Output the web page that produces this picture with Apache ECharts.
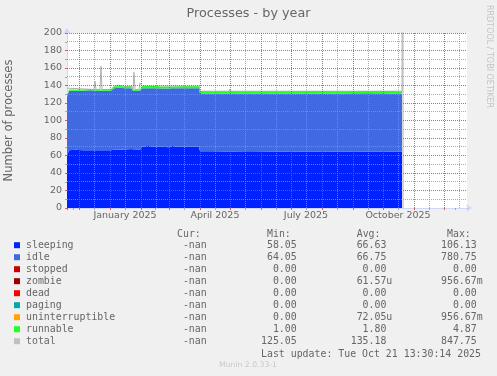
<!DOCTYPE html>
<html>
<head>
<meta charset="utf-8">
<title>Processes - by year</title>
<script src="https://cdn.jsdelivr.net/npm/echarts@6/dist/echarts.min.js"></script>
<style>
  html, body { margin: 0; padding: 0; background: #f0f0f0; }
  #wrap { position: relative; width: 497px; height: 376px; }
  #chart, #gridOverlay { position: absolute; left: 0; top: 0; width: 497px; height: 376px; }
  #gridOverlay { pointer-events: none; }
</style>
</head>
<body>
<div id="wrap">
  <div id="chart"></div>
  <div id="gridOverlay"></div>
</div>
<script>
// sample days
const dates = ['2024-11-19', '2024-11-21', '2024-11-28', '2024-12-05', '2024-12-12', '2024-12-19', '2024-12-26',
  '2025-01-02', '2025-01-05', '2025-01-10', '2025-01-16', '2025-01-22', '2025-01-24', '2025-01-31',
  '2025-02-02', '2025-02-08', '2025-02-15', '2025-02-22', '2025-03-01', '2025-03-04', '2025-03-10',
  '2025-03-20', '2025-03-31', '2025-04-01', '2025-04-15', '2025-05-01', '2025-05-20', '2025-06-10',
  '2025-07-01', '2025-07-25', '2025-08-20', '2025-09-15', '2025-10-10', '2025-10-20'];
const sleeping = [60, 66, 66.5, 66, 66, 66, 66, 66, 66.5, 66.5, 67, 67.5, 67, 66.5,
  70, 71, 70, 70, 69.5, 71, 70, 70, 70, 65, 65, 64.5, 65, 64.5, 64.5, 64.5, 64.5, 64.5, 64.5, 64.5];
const idle = [67, 68, 67.5, 68, 68.5, 68, 68, 68, 70.5, 71, 70, 69.5, 67, 67.5,
  67, 66, 67, 66.5, 67, 66, 67, 67, 67, 66, 66, 66.5, 66, 66.5, 66.5, 66.5, 66.5, 66.7, 66.5, 66.5];
const stopped = [0, 0, 0, 0, 0, 0, 0, 0, 0, 0, 0, 0, 0, 0, 0, 0, 0, 0, 0, 0, 0, 0, 0, 0, 0, 0, 0, 0, 0, 0, 0, 0, 0, 0];
const zombie = [0, 0, 0, 0, 0, 0, 0, 0, 0, 0, 0, 0, 0, 0, 0, 0, 0, 0, 0, 0, 0, 0, 0, 0, 0, 0, 0, 0, 0, 0, 0, 0, 0, 0];
const dead = [0, 0, 0, 0, 0, 0, 0, 0, 0, 0, 0, 0, 0, 0, 0, 0, 0, 0, 0, 0, 0, 0, 0, 0, 0, 0, 0, 0, 0, 0, 0, 0, 0, 0];
const paging = [0, 0, 0, 0, 0, 0, 0, 0, 0, 0, 0, 0, 0, 0, 0, 0, 0, 0, 0, 0, 0, 0, 0, 0, 0, 0, 0, 0, 0, 0, 0, 0, 0, 0];
const uninterruptible = [0, 0, 0, 0, 0, 0, 0, 0, 0, 0, 0, 0, 0, 0, 0, 0, 0, 0, 0, 0, 0, 0, 0, 0, 0, 0, 0, 0, 0, 0, 0, 0, 0, 0];
const runnable = [1, 1.5, 1.5, 1.5, 1.5, 1.5, 1.5, 1.5, 1.8, 1.8, 1.8, 1.8, 1.5, 1.5,
  2.3, 2.3, 2.3, 2, 2, 2, 2, 2.2, 2.2, 2.5, 2.5, 2.5, 2.5, 2.5, 2.5, 2.6, 2.5, 2.5, 2.6, 2.5];

// total has its own samples (spikes)
const totalDates = ['2024-11-19', '2024-11-21', '2024-12-16', '2024-12-17', '2024-12-18', '2024-12-22', '2024-12-23',
  '2024-12-24', '2025-01-02', '2025-01-05', '2025-01-09', '2025-01-16', '2025-01-23', '2025-01-24', '2025-01-25',
  '2025-01-26', '2025-01-30', '2025-01-31', '2025-02-02', '2025-03-03', '2025-03-04', '2025-03-05', '2025-03-31',
  '2025-04-01', '2025-04-30', '2025-05-01', '2025-05-02', '2025-10-20', '2025-10-21', '2025-10-21'];
const total = [137, 135.5, 135.5, 145, 135.5, 135.5, 162, 135.5, 135.5, 139, 140.5, 139, 139, 135.5, 155,
  135.5, 135.5, 143, 139.3, 139.3, 141, 139.3, 139.2, 133.5, 133.5, 136, 133.5, 133.5, 847.75, 0];

// axes / grid
const xStart = '2024-11-19';
const xEnd = '2025-12-24';
const monthStarts = ['2024-12-01', '2025-01-01', '2025-02-01', '2025-03-01', '2025-04-01', '2025-05-01', '2025-06-01',
  '2025-07-01', '2025-08-01', '2025-09-01', '2025-10-01', '2025-11-01', '2025-12-01'];
const midMonths = ['2024-12-16', '2025-01-16', '2025-02-16', '2025-03-16', '2025-04-16', '2025-05-16', '2025-06-16',
  '2025-07-16', '2025-08-16', '2025-09-16', '2025-10-16', '2025-11-16', '2025-12-16'];
const xLabelDates = ['2025-01-16', '2025-04-16', '2025-07-16', '2025-10-16'];
const xLabelTexts = ['January 2025', 'April 2025', 'July 2025', 'October 2025'];
const majorY = [20, 40, 60, 80, 100, 120, 140, 160, 180, 200];
const minorY = [10, 30, 50, 70, 90, 110, 130, 150, 170, 190];

// legend table
const legendNames = ['sleeping', 'idle', 'stopped', 'zombie', 'dead', 'paging', 'uninterruptible', 'runnable', 'total'];
const legendColors = ['#0022ff', '#4169e1', '#cc0000', '#990000', '#ff0000', '#00aaaa', '#ffa500', '#22ff22', '#c0c0c0'];
const curVals = ['-nan', '-nan', '-nan', '-nan', '-nan', '-nan', '-nan', '-nan', '-nan'];
const minVals = ['58.05', '64.05', '0.00', '0.00', '0.00', '0.00', '0.00', '1.00', '125.05'];
const avgVals = ['66.63', '66.75', '0.00', '61.57u', '0.00', '0.00', '72.05u', '1.80', '135.18'];
const maxVals = ['106.13', '780.75', '0.00', '956.67m', '0.00', '0.00', '956.67m', '4.87', '847.75'];
const columnHeads = ['Cur:', 'Min:', 'Avg:', 'Max:'];
const lastUpdate = 'Last update: Tue Oct 21 13:30:14 2025';

const ts = s => Date.parse(s + 'T00:00:00Z');
const pair = (xs, ys) => xs.map((d, i) => [ts(d), ys[i]]);

const MGRID = 'rgba(230,60,60,0.85)';
const GRID = 'rgba(150,150,150,0.8)';
const FONT = '#666';
const mono = '9.9px "DejaVu Sans Mono"';
const day = 86400000;
const gridBox = { left: 67, top: 33, width: 400, height: 175 };

// rrdtool style "%6.2lf%s"
function field(s) {
  let unit = ' ';
  if (/[a-z]$/.test(s) && s !== '-nan') { unit = s.slice(-1); s = s.slice(0, -1); }
  return s.padStart(6, ' ') + unit;
}

const colX = [171, 261, 350.7, 441];
const graphics = [];
graphics.push({ type: 'text', x: 248.5, y: 14, style: { text: 'Processes - by year', font: '12.8px "DejaVu Sans"', fill: FONT, align: 'center', verticalAlign: 'middle' } });
graphics.push({ type: 'text', x: 489, y: 56.5, rotation: -Math.PI / 2, style: { text: 'RRDTOOL / TOBI OETIKER', font: '8px "DejaVu Sans"', fill: '#c4c4c4', align: 'center', verticalAlign: 'middle' } });
columnHeads.forEach((h, j) => {
  graphics.push({ type: 'text', x: colX[j] + 6, y: 234, style: { text: h, font: mono, fill: FONT, align: 'left', verticalAlign: 'middle' } });
});
legendNames.forEach((n, i) => {
  const y = 245.7 + 12 * i;
  graphics.push({ type: 'rect', shape: { x: 14, y: y - 3.5, width: 6, height: 6 }, style: { fill: legendColors[i] } });
  graphics.push({ type: 'text', x: 26, y: y, style: { text: n, font: mono, fill: FONT, verticalAlign: 'middle' } });
  [curVals, minVals, avgVals, maxVals].forEach((col, j) => {
    graphics.push({ type: 'text', x: colX[j], y: y, style: { text: field(col[i]), font: mono, fill: FONT, verticalAlign: 'middle' } });
  });
});
graphics.push({ type: 'text', x: 261, y: 354, style: { text: lastUpdate, font: mono, fill: FONT, verticalAlign: 'middle' } });
graphics.push({ type: 'text', x: 248, y: 365.5, style: { text: 'Munin 2.0.33-1', font: '7.7px "DejaVu Sans"', fill: '#c8c8c8', align: 'center', verticalAlign: 'middle' } });

function area(name, values, color) {
  return {
    name: name, type: 'line', stack: 'procs', z: 2,
    symbol: 'none', showSymbol: false,
    lineStyle: { width: 0 },
    itemStyle: { color: color },
    areaStyle: { color: color, opacity: 1 },
    data: pair(dates, values)
  };
}

// dotted grid line series, snapped to pixel centres
function gridSeries(values, vertical, color) {
  return {
    type: 'custom', z: 20, silent: true, clip: false,
    data: values.map(v => [v]),
    renderItem: function (params, api) {
      const cs = params.coordSys;
      let shape;
      if (vertical) {
        const x = Math.floor(api.coord([api.value(0), 0])[0]) + 0.5;
        shape = { x1: x, y1: cs.y, x2: x, y2: cs.y + cs.height };
      } else {
        const y = Math.floor(api.coord([ts(xStart), api.value(0)])[1]) + 0.5;
        shape = { x1: cs.x, y1: y, x2: cs.x + cs.width, y2: y };
      }
      return { type: 'line', shape: shape, style: { stroke: color, lineWidth: 1, lineDash: [1, 1], fill: null } };
    }
  };
}

// main chart: axes, areas, texts
const chart = echarts.init(document.getElementById('chart'));
chart.setOption({
  animation: false,
  useUTC: true,
  backgroundColor: '#f0f0f0',
  textStyle: { fontFamily: 'DejaVu Sans' },
  grid: Object.assign({ show: true, backgroundColor: '#ffffff', borderWidth: 0, containLabel: false, outerBoundsMode: 'none' }, gridBox),
  xAxis: [{
    type: 'time', min: ts(xStart), max: ts(xEnd),
    minInterval: 28 * day, maxInterval: 31 * day,
    axisLine: { show: true, lineStyle: { color: '#cfd6f8' }, symbol: ['none', 'arrow'], symbolSize: [6, 6], symbolOffset: [0, 5] },
    axisTick: { show: true, length: 2, lineStyle: { color: MGRID } },
    minorTick: { show: true, splitNumber: 2, length: 2, lineStyle: { color: GRID } },
    splitLine: { show: false },
    axisLabel: { show: false }
  }, {
    // labels only, same scale as the time axis
    type: 'value', min: ts(xStart), max: ts(xEnd), position: 'bottom',
    axisLine: { show: false }, axisTick: { show: false }, splitLine: { show: false },
    axisLabel: {
      customValues: xLabelDates.map(ts),
      formatter: function (v) { return xLabelTexts[xLabelDates.map(ts).indexOf(v)] || ''; },
      fontSize: 9.5, color: FONT, margin: 3, hideOverlap: false
    }
  }],
  yAxis: {
    type: 'value', min: 0, max: 200, interval: 20,
    axisLine: { show: true, lineStyle: { color: '#cfd6f8' }, symbol: ['none', 'arrow'], symbolSize: [6, 6], symbolOffset: [0, 5] },
    axisTick: { show: true, length: 2, lineStyle: { color: MGRID } },
    minorTick: { show: true, splitNumber: 2, length: 2, lineStyle: { color: GRID } },
    splitLine: { show: false },
    axisLabel: { fontSize: 9.5, color: FONT, margin: 5 },
    name: 'Number of processes', nameLocation: 'middle', nameGap: 52,
    nameTextStyle: { fontSize: 11.5, color: FONT }
  },
  graphic: graphics,
  series: [
    {
      name: 'total', type: 'line', z: 1,
      symbol: 'none', showSymbol: false,
      lineStyle: { width: 1, color: '#b0b0b0' },
      itemStyle: { color: '#b0b0b0' },
      data: pair(totalDates, total)
    },
    area('sleeping', sleeping, '#0022ff'),
    area('idle', idle, '#4169e1'),
    area('stopped', stopped, '#cc0000'),
    area('zombie', zombie, '#990000'),
    area('dead', dead, '#ff0000'),
    area('paging', paging, '#00aaaa'),
    area('uninterruptible', uninterruptible, '#ffa500'),
    area('runnable', runnable, '#22ff22')
  ]
});

// transparent overlay chart with the same scales: the dotted grid sits on top of the areas
const overlay = echarts.init(document.getElementById('gridOverlay'));
overlay.setOption({
  animation: false,
  useUTC: true,
  backgroundColor: 'transparent',
  grid: Object.assign({ show: false, containLabel: false, outerBoundsMode: 'none' }, gridBox),
  xAxis: { type: 'time', min: ts(xStart), max: ts(xEnd), show: false },
  yAxis: { type: 'value', min: 0, max: 200, show: false },
  series: [
    gridSeries(minorY, false, GRID),
    gridSeries(midMonths.map(ts), true, GRID),
    gridSeries(majorY, false, MGRID),
    gridSeries(monthStarts.map(ts), true, MGRID)
  ]
});
</script>
</body>
</html>
